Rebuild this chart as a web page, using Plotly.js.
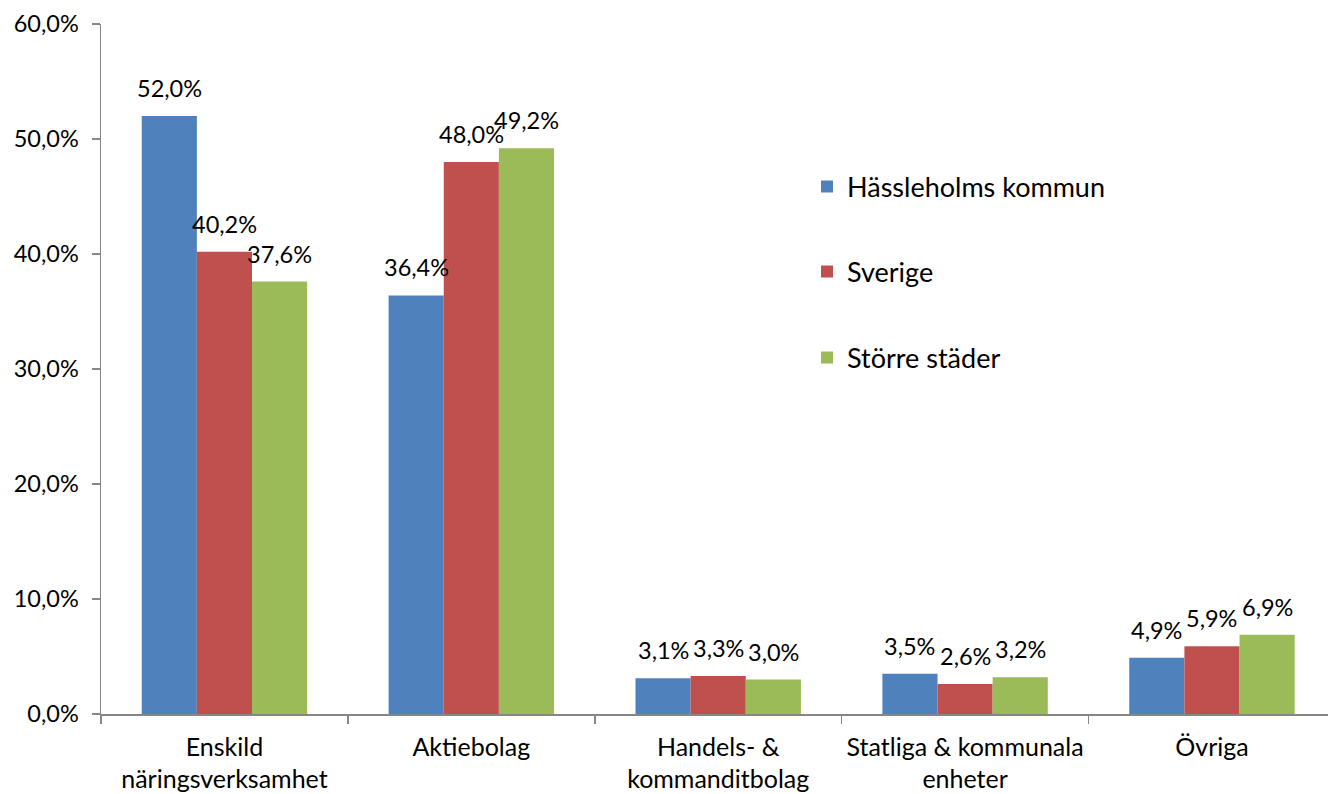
<!DOCTYPE html>
<html>
<head>
<meta charset="utf-8">
<script src="https://cdn.plot.ly/plotly-3.0.1.min.js"></script>
<style>html,body{margin:0;padding:0;background:#fff;}#chart{width:1328px;height:794px;}</style>
</head>
<body>
<div id="chart"></div>
<script>
const categories = ["Enskild<br>näringsverksamhet", "Aktiebolag", "Handels- &<br>kommanditbolag", "Statliga & kommunala<br>enheter", "Övriga"];
const seriesNames = ["Hässleholms kommun", "Sverige", "Större städer"];
const hassleholm = [52.0, 36.4, 3.1, 3.5, 4.9];
const sverige = [40.2, 48.0, 3.3, 2.6, 5.9];
const storreStader = [37.6, 49.2, 3.0, 3.2, 6.9];
const colors = ["#4F81BD", "#C0504D", "#9BBB59"];

const FONT = "Lato, 'Open Sans', sans-serif";
const values = [hassleholm, sverige, storreStader];
const legendIds = ["legend", "legend2", "legend3"];

const W = 1328, H = 794;
const margin = {l: 101, r: 0, t: 24, b: 80};
const xRange = [-0.5, 4.47];
const bargap = 0.33;

const traces = values.map((v, i) => ({
  type: "bar",
  name: seriesNames[i],
  x: categories,
  y: v,
  marker: {color: colors[i]},
  hoverinfo: "skip",
  legend: legendIds[i]
}));

// data labels as annotations, offset to each grouped bar's centre
const catPx = (W - margin.l - margin.r) / (xRange[1] - xRange[0]);
const barPx = catPx * (1 - bargap) / values.length;
const fmt = v => v.toFixed(1).replace(".", ",") + "%";
const annotations = [];
values.forEach((v, i) => {
  v.forEach((val, j) => {
    annotations.push({
      x: categories[j], y: val, xref: "x", yref: "y",
      text: fmt(val), showarrow: false,
      xanchor: "center", yanchor: "bottom",
      xshift: (i - (values.length - 1) / 2) * barPx,
      yshift: 12,
      font: {family: FONT, size: 23.5, color: "#000"}
    });
  });
});

const legendBase = {
  x: (807 - 101) / 1227,
  xanchor: "left",
  yanchor: "middle",
  font: {family: FONT, size: 27, color: "#000"},
  bgcolor: "rgba(0,0,0,0)",
  itemwidth: 30
};

const layout = {
  width: W,
  height: H,
  margin: margin,
  paper_bgcolor: "#fff",
  plot_bgcolor: "#fff",
  separators: ", ",
  barmode: "group",
  bargap: bargap,
  bargroupgap: 0,
  font: {family: FONT, size: 22, color: "#000"},
  annotations: annotations,
  xaxis: {
    type: "category",
    range: xRange,
    showgrid: false,
    showline: true,
    linecolor: "#868686",
    linewidth: 1.5,
    ticks: "outside",
    tickson: "boundaries",
    ticklen: 8,
    tickcolor: "#868686",
    tickwidth: 1.5,
    ticklabelstandoff: 10,
    tickfont: {family: FONT, size: 25, color: "#000"},
    zeroline: false,
    fixedrange: true
  },
  yaxis: {
    range: [0, 60],
    dtick: 10,
    tickformat: ".1f",
    ticksuffix: "%",
    showgrid: false,
    showline: true,
    linecolor: "#868686",
    linewidth: 1.5,
    ticks: "outside",
    ticklen: 8,
    tickcolor: "#868686",
    tickwidth: 1.5,
    ticklabelstandoff: 8,
    tickfont: {family: FONT, size: 23.5, color: "#000"},
    zeroline: false,
    fixedrange: true
  },
  legend: Object.assign({}, legendBase, {y: (714 - 187) / 690}),
  legend2: Object.assign({}, legendBase, {y: (714 - 272) / 690}),
  legend3: Object.assign({}, legendBase, {y: (714 - 358) / 690}),
  showlegend: true
};

Plotly.newPlot("chart", traces, layout, {displayModeBar: false, staticPlot: true});
</script>
</body>
</html>
